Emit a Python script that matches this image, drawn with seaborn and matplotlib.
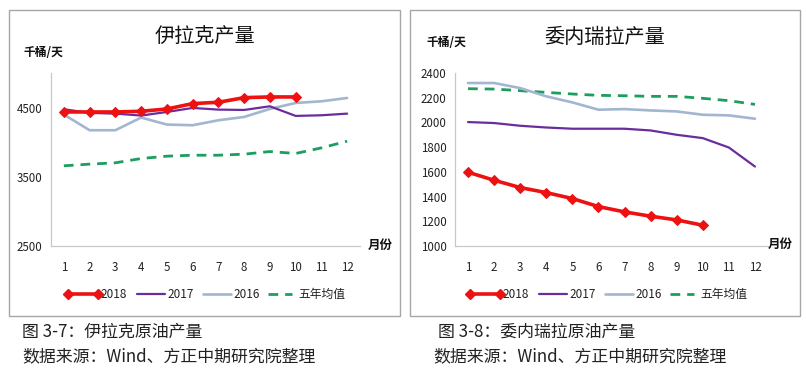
import matplotlib
matplotlib.use("Agg")
import matplotlib.pyplot as plt
import seaborn as sns
import pandas as pd
from matplotlib.patches import Rectangle
from matplotlib.lines import Line2D

sns.set_style("white")
plt.rcParams['font.family'] = ['Noto Sans CJK SC', 'DejaVu Sans']

months = list(range(1, 13))
month_labels = [str(m) for m in months]
series_names = ["2018", "2017", "2016", "五年均值"]

# Iraq production (kb/d)
iraq_2018 = [4437, 4437, 4437, 4447, 4480, 4558, 4577, 4644, 4654, 4654]
iraq_2017 = [4476, 4423, 4413, 4385, 4437, 4495, 4471, 4466, 4519, 4380, 4389, 4413]
iraq_2016 = [4399, 4173, 4173, 4356, 4255, 4245, 4317, 4365, 4481, 4567, 4591, 4639]
iraq_5yr = [3659, 3683, 3702, 3764, 3798, 3812, 3812, 3827, 3865, 3837, 3918, 4014]

# Venezuela production (kb/d)
ven_2018 = [1597, 1532, 1473, 1432, 1384, 1319, 1276, 1241, 1211, 1168]
ven_2017 = [2003, 1995, 1973, 1959, 1949, 1949, 1949, 1935, 1900, 1873, 1797, 1643]
ven_2016 = [2319, 2319, 2278, 2211, 2162, 2103, 2108, 2097, 2089, 2062, 2057, 2030]
ven_5yr = [2273, 2270, 2257, 2243, 2230, 2219, 2216, 2211, 2211, 2195, 2176, 2146]

iraq_ticks = [2500, 3500, 4500]
ven_ticks = [1000, 1200, 1400, 1600, 1800, 2000, 2200, 2400]

C18, C17, C16, C5 = "#ee1111", "#6b2c9c", "#a2b6d0", "#1c9e5e"

W, H = 806, 370
fig = plt.figure(figsize=(W / 100, H / 100), dpi=100)


def px(x0, y0, x1, y1):
    return [x0 / W, 1 - y1 / H, (x1 - x0) / W, (y1 - y0) / H]


def panel(rect, s18, s17, s16, s5, ylim, yticks):
    ax = fig.add_axes(px(*rect))
    ax.set_facecolor("none")
    df16 = pd.DataFrame({"m": months[:len(s16)], "v": s16})
    df17 = pd.DataFrame({"m": months[:len(s17)], "v": s17})
    df5 = pd.DataFrame({"m": months[:len(s5)], "v": s5})
    df18 = pd.DataFrame({"m": months[:len(s18)], "v": s18})
    sns.lineplot(data=df5, x="m", y="v", ax=ax, color=C5, lw=2.0,
                 linestyle=(0, (3.5, 2.5)), zorder=2)
    sns.lineplot(data=df16, x="m", y="v", ax=ax, color=C16, lw=1.9, zorder=3)
    sns.lineplot(data=df17, x="m", y="v", ax=ax, color=C17, lw=1.6, zorder=4)
    sns.lineplot(data=df18, x="m", y="v", ax=ax, color=C18, lw=2.6,
                 marker="D", markersize=5.5, markeredgecolor=C18, zorder=5)
    ax.set_xlim(0.5, 12.5)
    ax.set_ylim(*ylim)
    ax.set_xticks(months)
    ax.set_xticklabels(month_labels)
    ax.set_yticks(yticks)
    ax.set_yticklabels([str(t) for t in yticks])
    ax.set_xlabel("")
    ax.set_ylabel("")
    for s in ["top", "right"]:
        ax.spines[s].set_visible(False)
    for s in ["left", "bottom"]:
        ax.spines[s].set_color("#c8c8c8")
        ax.spines[s].set_linewidth(0.9)
    ax.tick_params(axis="both", length=0, labelsize=8.3, colors="#222222")
    ax.tick_params(axis="x", pad=11)
    ax.tick_params(axis="y", pad=6)
    return ax


panel((51, 73, 360, 246), iraq_2018, iraq_2017, iraq_2016, iraq_5yr, (2500, 5000), iraq_ticks)
panel((455, 73, 768, 246), ven_2018, ven_2017, ven_2016, ven_5yr, (1000, 2400), ven_ticks)

# frames
for (x0, x1) in [(9, 400), (410, 800)]:
    fig.patches.append(Rectangle((x0 / W, 1 - 316 / H), (x1 - x0) / W, (316 - 10) / H,
                                 transform=fig.transFigure, fill=False,
                                 edgecolor="#a6a6a6", lw=1.0))


def ftext(x, y, s, **kw):
    fig.text(x / W, 1 - y / H, s, **kw)


# titles and labels
ftext(205, 37, "伊拉克产量", ha="center", va="center", fontsize=14.5, color="#111111")
ftext(605, 37, "委内瑞拉产量", ha="center", va="center", fontsize=14.5, color="#111111")
ftext(23, 53, "千桶/天", ha="left", va="center", fontsize=8.5, fontweight="bold", color="#111111")
ftext(427, 43, "千桶/天", ha="left", va="center", fontsize=8.5, fontweight="bold", color="#111111")
ftext(368, 245, "月份", ha="left", va="center", fontsize=9, fontweight="bold", color="#111111")
ftext(768, 244, "月份", ha="left", va="center", fontsize=9, fontweight="bold", color="#111111")


def legend_row(xoff):
    y = 1 - 294 / H
    items = [
        (68, 98, C18, "-", 2.6, "D", series_names[0]),
        (137, 165, C17, "-", 1.6, None, series_names[1]),
        (203, 231, C16, "-", 1.9, None, series_names[2]),
        (268, 292, C5, (0, (3.5, 2.5)), 2.0, None, series_names[3]),
    ]
    for x0, x1, c, ls, lw, mk, lab in items:
        xs = [(x0 + xoff) / W, (x1 + xoff) / W]
        ln = Line2D(xs, [y, y], transform=fig.transFigure, color=c, lw=lw, linestyle=ls)
        fig.lines.append(ln)
        if mk:
            m = Line2D(xs, [y, y], transform=fig.transFigure, color=c, lw=0,
                       marker=mk, markersize=5.5)
            fig.lines.append(m)
        tx = x1 + xoff + (2 if lab != "五年均值" else 6)
        fig.text(tx / W, y, lab, ha="left", va="center", fontsize=8.5, color="#222222")


legend_row(0)
legend_row(402)

# captions
cap_kw = dict(ha="left", va="center", fontsize=12.2, color="#222222")
ftext(22, 332, "图 3-7：伊拉克原油产量", **cap_kw)
ftext(22, 357, "数据来源：Wind、方正中期研究院整理", **cap_kw)
ftext(438, 332, "图 3-8：委内瑞拉原油产量", **cap_kw)
ftext(433, 357, "数据来源：Wind、方正中期研究院整理", **cap_kw)

fig.savefig("out.png", dpi=100, facecolor="white")
